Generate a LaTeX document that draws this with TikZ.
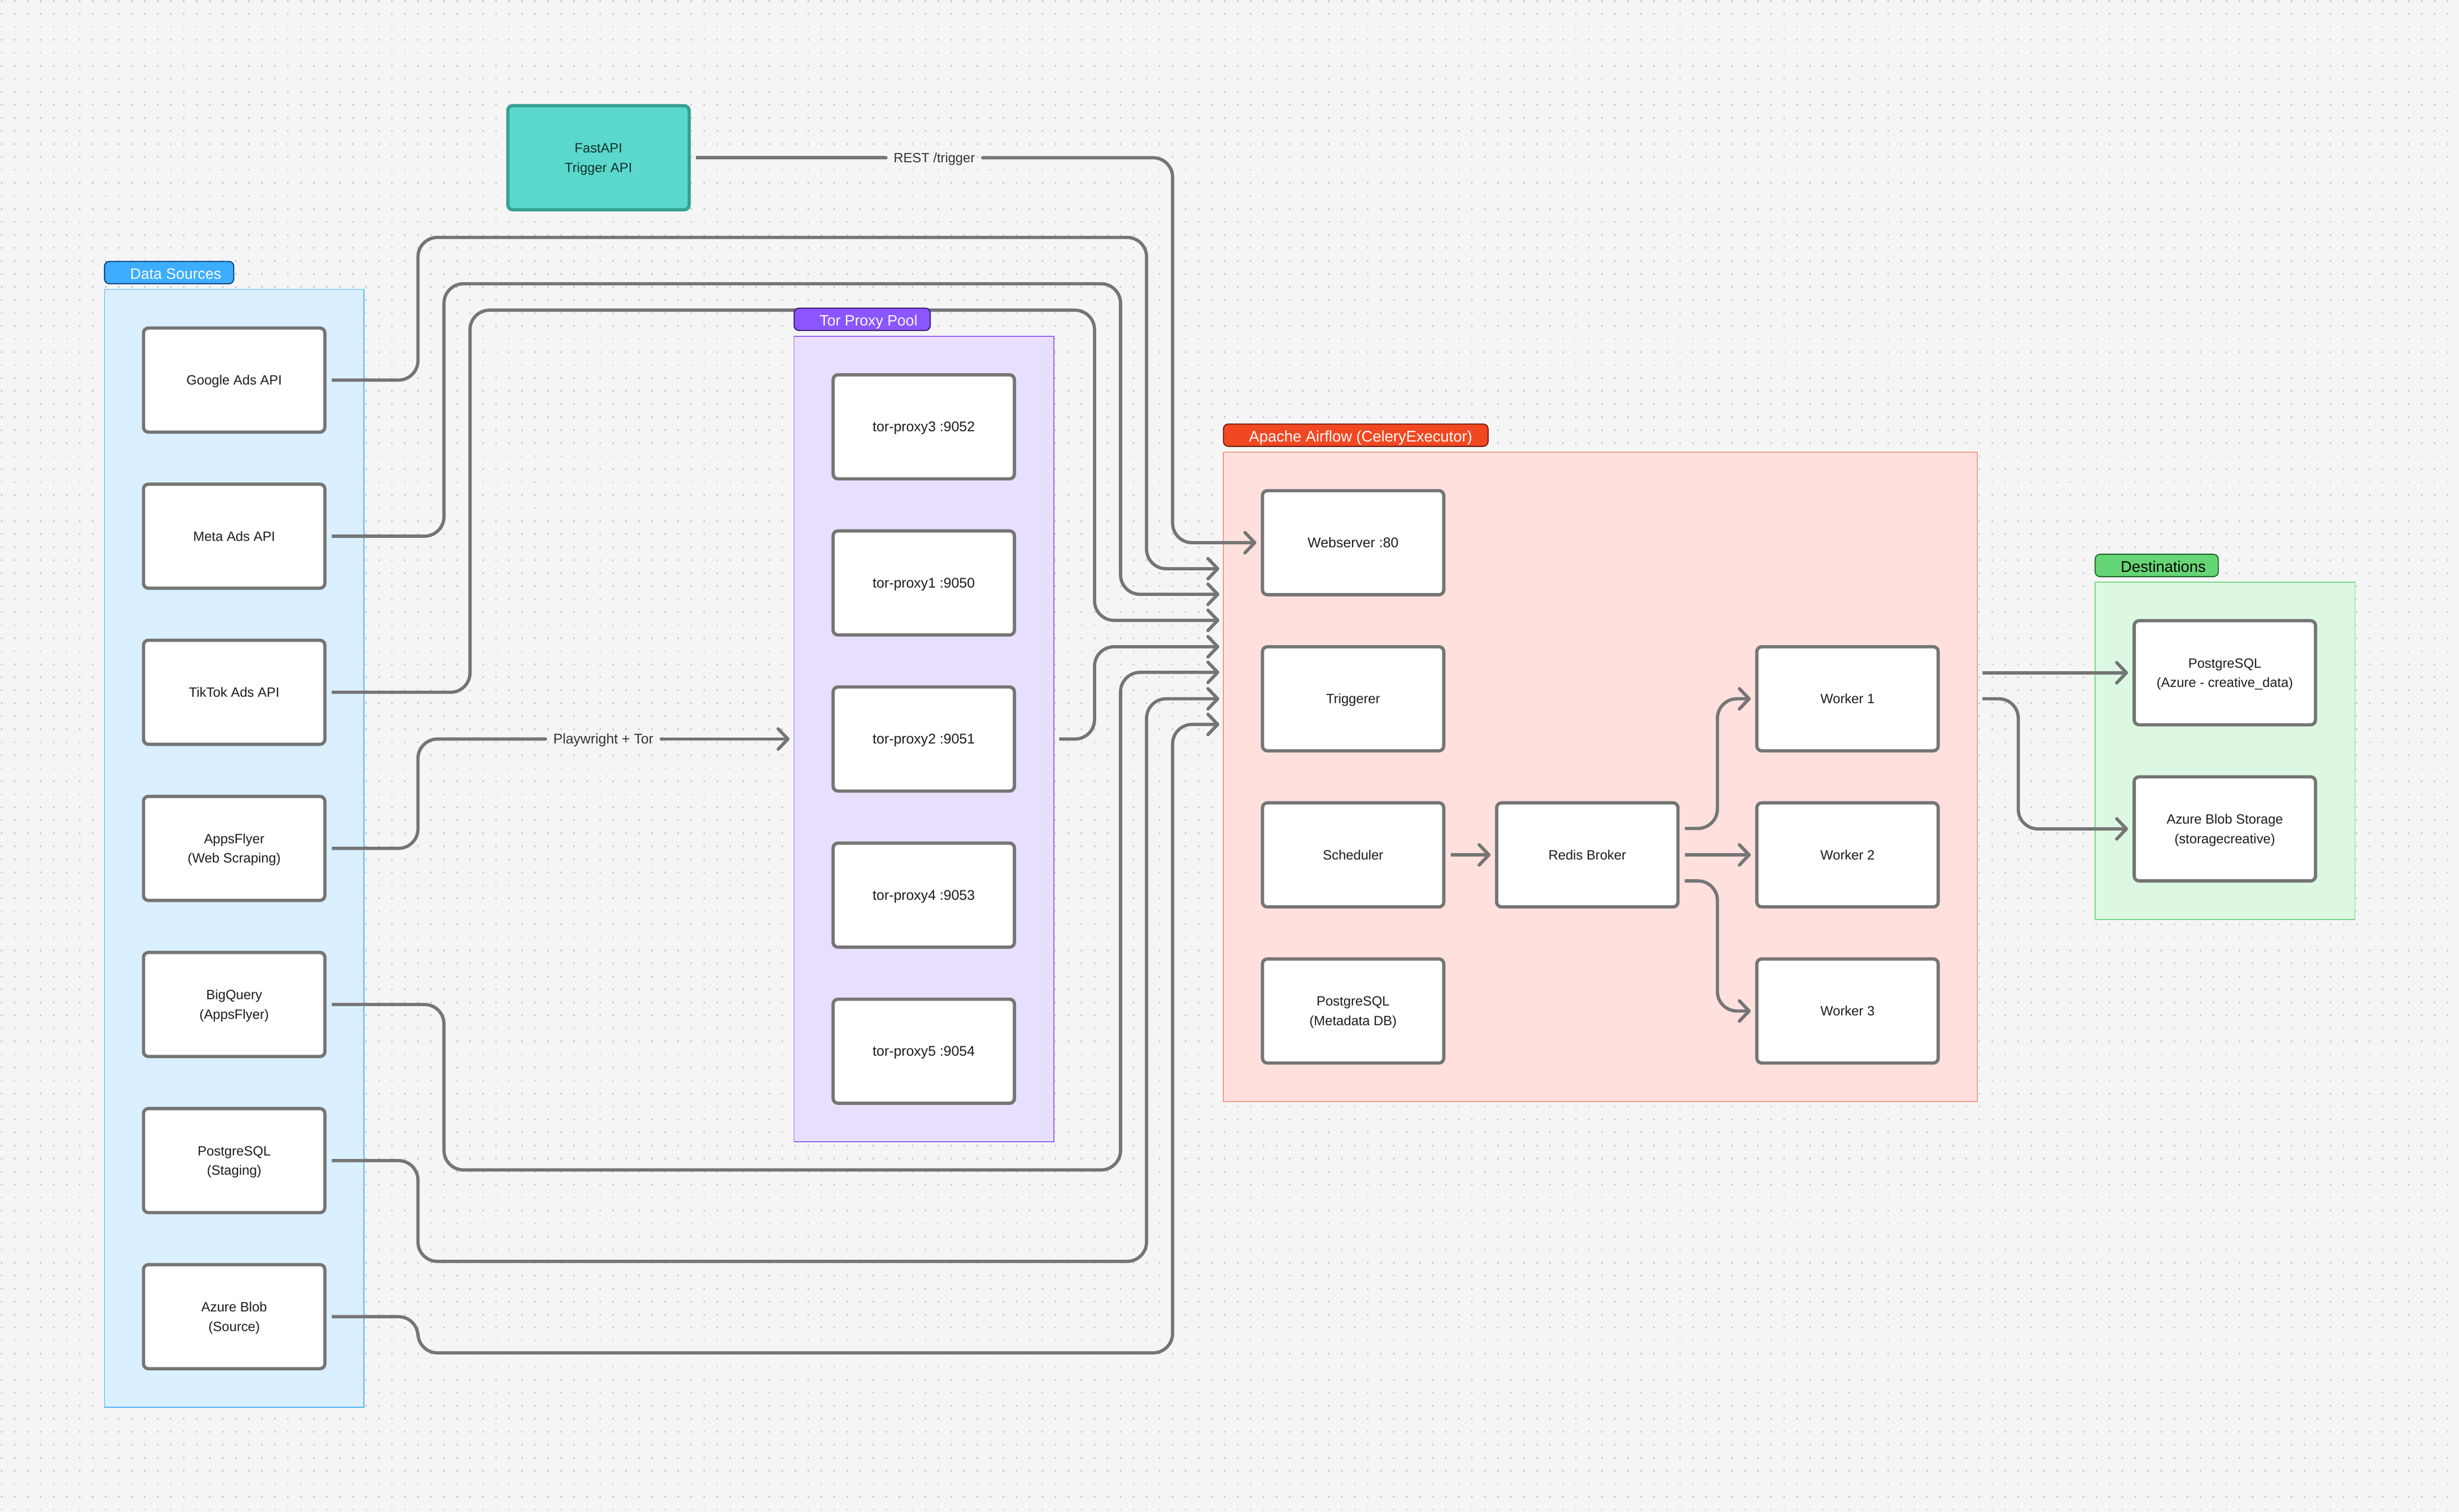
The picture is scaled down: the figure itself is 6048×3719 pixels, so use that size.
\documentclass[tikz,border=0pt]{standalone}
\usepackage{fontspec}
\setmainfont{Liberation Sans}
\usetikzlibrary{arrows.meta}
\definecolor{bgc}{HTML}{F5F5F5}
\definecolor{dotc}{HTML}{C9C9C9}
\definecolor{linec}{HTML}{757575}
\definecolor{inkc}{HTML}{1E1E1E}
\definecolor{blueF}{HTML}{DAEFFF}
\definecolor{blueS}{HTML}{3DADFF}
\definecolor{blueD}{HTML}{003A75}
\definecolor{purpF}{HTML}{E8DFFF}
\definecolor{purpS}{HTML}{8B55FF}
\definecolor{purpD}{HTML}{2A1465}
\definecolor{redF}{HTML}{FFE0DD}
\definecolor{redS}{HTML}{F24822}
\definecolor{redD}{HTML}{6B1A0B}
\definecolor{greenF}{HTML}{DCF8E2}
\definecolor{greenS}{HTML}{66D575}
\definecolor{greenD}{HTML}{1B5E2A}
\definecolor{tealF}{HTML}{5AD8CC}
\definecolor{tealS}{HTML}{36A094}
\definecolor{tealT}{HTML}{12302C}
\tikzset{
  barb/.tip={Straight Barb[length=24pt,width=50pt,line width=8pt,round]},
  rnd/.tip={Round Cap[]},
  dotrow/.style={draw=dotc,line width=4.5pt,line cap=round,dash pattern=on 0.01pt off 31.99pt},
  zone/.style={rectangle,line width=2pt,inner sep=0pt,outer sep=0pt},
  tagbox/.style={rectangle,rounded corners=12pt,line width=2.5pt,inner sep=0pt,outer sep=0pt,
    minimum height=55pt,anchor=west,text height=32pt,text depth=0pt,font=\fontsize{37}{44}\selectfont},
  svc/.style={rectangle,draw=linec,fill=white,line width=8pt,rounded corners=12pt,
    minimum width=446pt,minimum height=256pt,inner sep=0pt,align=center,text=inkc,
    text height=24pt,text depth=0.6pt,font=\fontsize{33}{48}\selectfont},
  svctwo/.style={svc,text height=72pt},
  torbox/.style={svc,font=\fontsize{34.5}{48}\selectfont},
  caption/.style={inner sep=0pt,outer sep=15pt,text=inkc!90,text height=24pt,text depth=0pt,font=\fontsize{33}{40}\selectfont},
  conn/.style={draw=linec,line width=8pt,rounded corners=48pt}
}
\begin{document}
\begin{tikzpicture}[x=1pt,y=-1pt]
\useasboundingbox (0,0) rectangle (6048,3719);
\fill[bgc] (0,0) rectangle (6048,3719);
\foreach \r in {0,...,116}{
  \pgfmathsetmacro{\yy}{2+32*\r}
  \draw[dotrow] (4,\yy) -- (6048,\yy);
}
% zones
\node[zone,fill=blueF,draw=blueS,minimum width=638pt,minimum height=2750pt] (sources) at (576,2087) {};
\node[zone,fill=purpF,draw=purpS,minimum width=639pt,minimum height=1982pt] (torpool) at (2272.5,1818) {};
\node[zone,fill=redF,draw=redS,minimum width=1854pt,minimum height=1598pt] (airflow) at (3936,1911) {};
\node[zone,fill=greenF,draw=greenS,minimum width=639pt,minimum height=830pt] (dests) at (5472.5,1847) {};
% service boxes
\node[svc] (google) at (576,935) {Google Ads API};
\node[svc] (meta) at (576,1319) {Meta Ads API};
\node[svc] (tiktok) at (576,1703) {TikTok Ads API};
\node[svctwo] (appsflyer) at (576,2087) {AppsFlyer\\(Web Scraping)};
\node[svctwo] (bigquery) at (576,2471) {BigQuery\\(AppsFlyer)};
\node[svctwo] (pgstaging) at (576,2855) {PostgreSQL\\(Staging)};
\node[svctwo] (azsource) at (576,3239) {Azure Blob\\(Source)};
\node[torbox] (tor3) at (2272,1050) {tor-proxy3 :9052};
\node[torbox] (tor1) at (2272,1434) {tor-proxy1 :9050};
\node[torbox] (tor2) at (2272,1818) {tor-proxy2 :9051};
\node[torbox] (tor4) at (2272,2202) {tor-proxy4 :9053};
\node[torbox] (tor5) at (2272,2586) {tor-proxy5 :9054};
\node[torbox] (web) at (3328,1335) {Webserver :80};
\node[svc] (trig) at (3328,1719) {Triggerer};
\node[svc] (sched) at (3328,2103) {Scheduler};
\node[svctwo] (pgmeta) at (3328,2487) {PostgreSQL\\(Metadata DB)};
\node[svc] (redis) at (3904,2103) {Redis Broker};
\node[svc] (w1) at (4544,1719) {Worker 1};
\node[svc] (w2) at (4544,2103) {Worker 2};
\node[svc] (w3) at (4544,2487) {Worker 3};
\node[svctwo] (pgdest) at (5472,1655) {PostgreSQL\\(Azure - creative\_data)};
\node[svctwo] (azdest) at (5472,2039) {Azure Blob Storage\\(storagecreative)};
\node[svctwo,draw=tealS,fill=tealF,text=tealT] (fastapi) at (1472,388) {FastAPI\\Trigger API};
% connector captions
\node[caption,minimum width=198pt] (restcap) at (2298,388) {REST /trigger};
\node[caption,minimum width=243pt,font=\fontsize{34.5}{40}\selectfont] (playcap) at (1484,1818) {Playwright + Tor};
% free ends on the Airflow zone
\coordinate (in1) at (2999,1399);
\coordinate (in2) at (2999,1462);
\coordinate (in3) at (2999,1526);
\coordinate (in4) at (2999,1591);
\coordinate (in5) at (2999,1654);
\coordinate (in6) at (2999,1719);
\coordinate (in7) at (2999,1782);
\coordinate (afout1) at (4876,1655);
\coordinate (afout2) at (4876,1719);
% connectors
\draw[conn,-barb] ([xshift=13pt]google.east) -- (1028,935) -- (1028,584) -- (2820,584) -- (2820,1399) -- (in1);
\draw[conn,-barb] ([xshift=13pt]meta.east) -- (1092,1319) -- (1092,698) -- (2756,698) -- (2756,1462) -- (in2);
\draw[conn,-barb] ([xshift=13pt]tiktok.east) -- (1156,1703) -- (1156,763) -- (2692,763) -- (2692,1526) -- (in3);
\draw[conn,-barb] ([xshift=13pt]torpool.east) -- (2692,1818) -- (2692,1591) -- (in4);
\draw[conn,-barb] ([xshift=13pt]bigquery.east) -- (1092,2471) -- (1092,2878) -- (2756,2878) -- (2756,1654) -- (in5);
\draw[conn,-barb] ([xshift=13pt]pgstaging.east) -- (1028,2855) -- (1028,3103) -- (2820,3103) -- (2820,1719) -- (in6);
\draw[conn,-barb] ([xshift=13pt]azsource.east) -- (1028,3239) -- (1028,3328) -- (2884,3328) -- (2884,1782) -- (in7);
\draw[conn,-rnd] ([xshift=13pt]fastapi.east) -- (restcap.west);
\draw[conn,rnd-barb] (restcap.east) -- (2884,388) -- (2884,1335) -- ([xshift=-11pt]web.west);
\draw[conn,-rnd] ([xshift=13pt]appsflyer.east) -- (1028,2087) -- (1028,1818) -- (playcap.west);
\draw[conn,rnd-barb] (playcap.east) -- ([xshift=-11pt]torpool.west);
\draw[conn,-barb] ([xshift=13pt]sched.east) -- ([xshift=-11pt]redis.west);
\draw[conn,-barb] ([xshift=13pt,yshift=65pt]redis.east) -- (4224,2038) -- (4224,1719) -- ([xshift=-11pt]w1.west);
\draw[conn,-barb] ([xshift=13pt]redis.east) -- ([xshift=-11pt]w2.west);
\draw[conn,-barb] ([xshift=13pt,yshift=-64pt]redis.east) -- (4224,2167) -- (4224,2487) -- ([xshift=-11pt]w3.west);
\draw[conn,-barb] (afout1) -- ([xshift=-11pt]pgdest.west);
\draw[conn,-barb] (afout2) -- (4964,1719) -- (4964,2039) -- ([xshift=-11pt]azdest.west);
% zone tags
\node[tagbox,fill=blueS,draw=blueD,text=white,minimum width=318pt] (tagsrc) at (257,670.5) {\makebox[318pt][l]{\hspace*{63pt}Data Sources}};
\node[tagbox,fill=purpS,draw=purpD,text=white,minimum width=335pt] (tagtor) at (1953,785.5) {\makebox[335pt][l]{\hspace*{63pt}Tor Proxy Pool}};
\node[tagbox,fill=redS,draw=redD,text=white,minimum width=651pt,font=\fontsize{38}{44}\selectfont] (tagair) at (3009,1070.5) {\makebox[651pt][l]{\hspace*{63pt}Apache Airflow (CeleryExecutor)}};
\node[tagbox,fill=greenS,draw=greenD,text=black,minimum width=303pt,font=\fontsize{38}{44}\selectfont] (tagdst) at (5153,1391) {\makebox[303pt][l]{\hspace*{63pt}Destinations}};
\end{tikzpicture}
\end{document}
